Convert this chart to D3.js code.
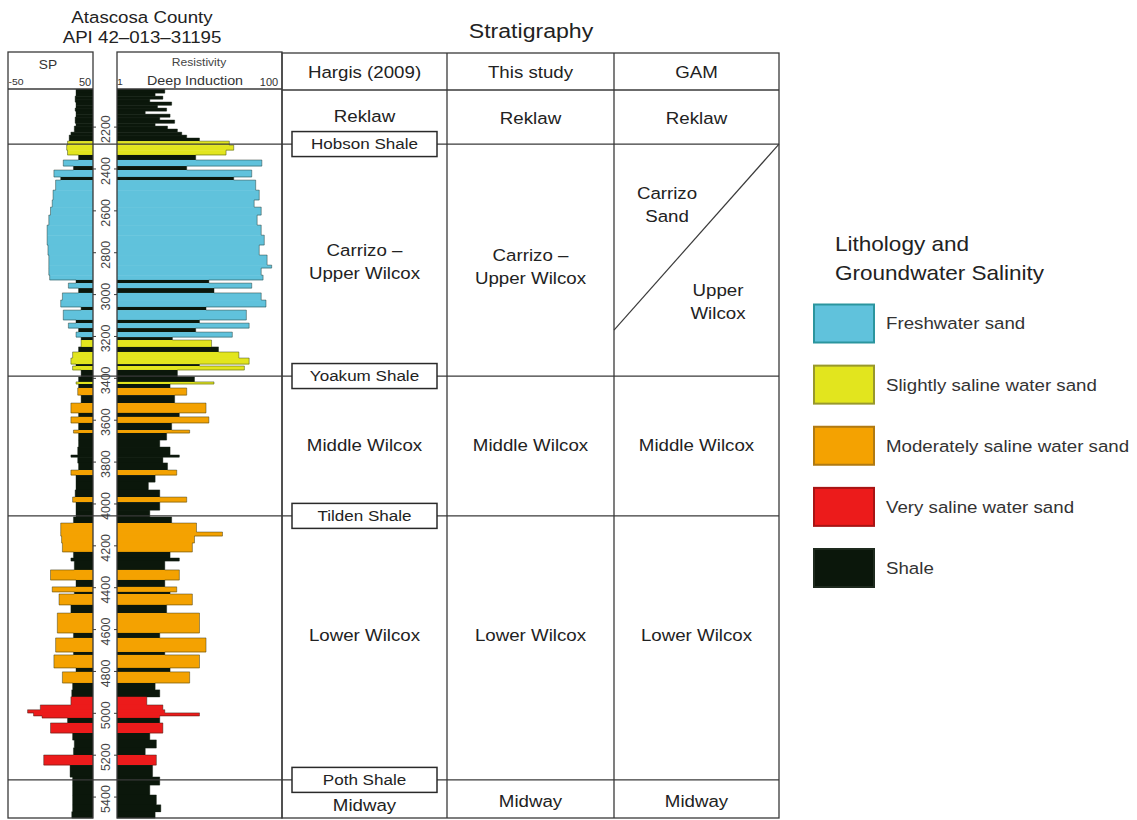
<!DOCTYPE html>
<html>
<head>
<meta charset="utf-8">
<script src="https://cdn.jsdelivr.net/npm/d3@7"></script>
<style>
  html, body { margin: 0; padding: 0; background: #fff; }
  svg { display: block; }
  text { font-family: "Liberation Sans", Arial, Helvetica, sans-serif; fill: #222; }
</style>
</head>
<body>
<svg id="chart" width="1137" height="820"></svg>
<script>
// ---------------- DATA ----------------
const titleLines = ["Atascosa County", "API 42\u2013013\u201331195"];
const depthTicks = [2200, 2400, 2600, 2800, 3000, 3200, 3400, 3600, 3800, 4000, 4200, 4400, 4600, 4800, 5000, 5200, 5400];
const logTop = 2018, logBottom = 5500;

// bed tops (ft), lithology code, SP (mV), deep induction resistivity (ohm-m)
const bedTop = [2018, 2037, 2052, 2066, 2080, 2095, 2109, 2123, 2138, 2152, 2166, 2181, 2195, 2209, 2224, 2238, 2252,
  2267, 2286, 2310, 2333, 2357, 2386, 2405, 2438, 2453, 2501, 2548, 2582, 2620, 2668, 2716, 2763, 2811, 2859, 2873, 2907,
  2930, 2945, 2969, 2992, 3026, 3059, 3074, 3121, 3136, 3160, 3179, 3203, 3217, 3250, 3274, 3303, 3332, 3341, 3360, 3393,
  3417, 3427, 3446, 3480, 3518, 3565, 3584, 3613, 3647, 3661, 3694, 3728, 3766, 3776, 3804, 3838, 3862, 3895, 3933, 3967,
  3991, 4029, 4062, 4091, 4134, 4153, 4186, 4229, 4258, 4272, 4315, 4363, 4396, 4420, 4430, 4482, 4521, 4616, 4640, 4707,
  4721, 4783, 4802, 4855, 4888, 4921, 4960, 4983, 4998, 5012, 5022, 5046, 5094, 5127, 5165, 5199, 5247, 5304, 5342, 5390,
  5437, 5470];
const bedLith = ["S","S","S","S","S","S","S","S","S","S","S","S","S","S","S","S","S",
  "Y","Y","Y","S","F","S","F","S","F","F","F","F","F","F","F","F","F","F","F","F",
  "S","F","S","F","F","S","F","S","F","S","F","S","Y","S","Y","Y","S","Y","S","S",
  "Y","S","M","S","M","S","M","S","M","S","S","S","S","S","S","M","S","S","S","M",
  "S","S","S","M","M","M","M","S","S","S","M","S","M","S","M","S","M","S","M","S",
  "M","S","M","S","S","V","V","V","V","V","S","V","S","S","S","V","S","S","S","S",
  "S","S"];
const bedSP = [30, 30, 29, 29, 30, 30, 29, 30, 30, 29, 29, 30, 28, 28, 24, 22, 22,
  20, 19, 20, 33, 15, 27, 4, 12, 6, 3, 2, 0, -2, -4, -4, -3, -2, -2, -2, -1,
  30, 21, 33, 14, 12, 36, 15, 30, 21, 33, 30, 36, 36, 33, 26, 24, 30, 26, 36, 33,
  30, 33, 32, 36, 24, 33, 24, 33, 27, 33, 33, 32, 24, 32, 33, 24, 30, 30, 29, 26,
  30, 30, 27, 12, 12, 13, 14, 27, 24, 28, 0, 30, 2, 28, 10, 24, 8, 27, 6, 27,
  4, 30, 14, 26, 25, 24, -12, -27, -20, -10, 20, 0, 26, 28, 27, -8, 23, 26, 26, 26,
  26, 25];
const bedRes = [3.8, 2.9, 3.6, 2.5, 4.6, 3.1, 4.0, 2.2, 4.4, 3.3, 5.0, 2.9, 4.1, 5.4, 6.1, 7.0, 10,
  23, 26, 21, 9, 57, 7, 43, 26, 48, 53, 46, 56, 50, 56, 61, 53, 66, 75, 56, 59,
  13, 43, 15, 56, 64, 12, 37, 10, 40, 9, 25, 4.7, 14, 17, 30, 40, 10, 35, 5.4, 8.7,
  15, 4.4, 7, 5, 12, 5.7, 13, 4.6, 7.6, 4, 3.3, 4.4, 5.7, 3.6, 4.1, 5.3, 2.9, 2.4, 3.3, 7,
  3.3, 2.5, 4.6, 9.2, 19, 8.7, 8.2, 4.4, 5.7, 3.8, 5.7, 3.8, 5.3, 4.4, 8.2, 4, 10, 3.3, 12, 3.8,
  10, 4.4, 7.6, 2.9, 3.3, 2.3, 3.6, 3.8, 10, 3.3, 3.3, 3.6, 2.5, 3.0, 2.2, 3.0, 2.7, 3.3, 2.5, 3.0,
  3.4, 2.9];

// lithology legend
const lithKeys = ["F", "Y", "M", "V", "S"];
const lithNames = ["Freshwater sand", "Slightly saline water sand", "Moderately saline water sand", "Very saline water sand", "Shale"];
const lithFill = ["#60c2dc", "#e2e51e", "#f4a201", "#ec1b1b", "#0b170b"];
const lithStroke = ["#2b959e", "#98982c", "#b07a12", "#a81414", "#1e2a1e"];
const legendTitle = ["Lithology and", "Groundwater Salinity"];

// stratigraphy
const stratTitle = "Stratigraphy";
const stratColumns = ["Hargis (2009)", "This study", "GAM"];
const boundaryDepths = [2281, 3389, 4057, 5318];
const hargisShales = ["Hobson Shale", "Yoakum Shale", "Tilden Shale", "Poth Shale"];
const gamDiagonalBottom = 3170;

// ---------------- LAYOUT ----------------
const svg = d3.select("#chart");
const FONT_SX = 1.1;
const lineColor = "#3a3a3a";

const top0 = 52, headBottom = 89, bottom0 = 818;
const spL = 8, spR = 93, resL = 117, resR = 282;
const tabL = 282, tabR = 779;
const colX = [282, 447, 614, 779];

const y = d3.scaleLinear().domain([logTop, logBottom]).range([headBottom, bottom0]);
const xSP = d3.scaleLinear().domain([-50, 50]).range([spL, spR]);
const xRes = d3.scaleLog().domain([1, 100]).range([resL, resR]);
const lithColor = d3.scaleOrdinal().domain(lithKeys).range(lithFill);

function txt(g, x, yy, s, size, opts = {}) {
  return g.append("text")
    .attr("transform", `translate(${x},${yy}) scale(${opts.sx || FONT_SX},1)`)
    .attr("text-anchor", opts.anchor || "middle")
    .attr("dy", "0.35em")
    .style("font-size", size + "px")
    .style("fill", opts.fill || "#222")
    .text(s);
}

// ---- Titles ----
txt(svg, 142, 17, titleLines[0], 17);
txt(svg, 142, 37, titleLines[1], 17);
txt(svg, 531, 31, stratTitle, 21);

// ---- Log fills ----
const beds = bedTop.map((t, i) => ({
  top: t,
  bot: i < bedTop.length - 1 ? bedTop[i + 1] : logBottom,
  lith: bedLith[i], sp: bedSP[i], res: bedRes[i]
}));

const gLog = svg.append("g");
gLog.selectAll("rect.sp").data(beds).join("rect")
  .attr("class", "sp")
  .attr("x", d => xSP(d.sp))
  .attr("width", d => spR - xSP(d.sp))
  .attr("y", d => y(d.top))
  .attr("height", d => y(d.bot) - y(d.top) + 0.3)
  .attr("fill", d => lithColor(d.lith));

gLog.selectAll("rect.res").data(beds).join("rect")
  .attr("class", "res")
  .attr("x", resL)
  .attr("width", d => xRes(d.res) - resL)
  .attr("y", d => y(d.top))
  .attr("height", d => y(d.bot) - y(d.top) + 0.3)
  .attr("fill", d => lithColor(d.lith));

// curve outlines: stepBefore keeps each bed's value from its top down to the next top
const bedsEnd = beds.concat([{ top: logBottom, sp: beds[beds.length - 1].sp, res: beds[beds.length - 1].res }]);
const spLine = d3.line().curve(d3.curveStepBefore).x(d => xSP(d.sp)).y(d => y(d.top));
const resLine = d3.line().curve(d3.curveStepBefore).x(d => xRes(d.res)).y(d => y(d.top));
gLog.append("path").attr("d", spLine(bedsEnd)).attr("fill", "none").attr("stroke", "#142014").attr("stroke-width", 0.8).attr("opacity", 0.5);
gLog.append("path").attr("d", resLine(bedsEnd)).attr("fill", "none").attr("stroke", "#142014").attr("stroke-width", 0.8).attr("opacity", 0.5);

// ---- Log frames ----
const gFrame = svg.append("g").attr("fill", "none").attr("stroke", lineColor).attr("stroke-width", 1.3);
gFrame.append("rect").attr("x", spL).attr("y", top0).attr("width", spR - spL).attr("height", bottom0 - top0);
gFrame.append("rect").attr("x", resL).attr("y", top0).attr("width", resR - resL).attr("height", bottom0 - top0);
gFrame.append("line").attr("x1", spL).attr("x2", spR).attr("y1", headBottom).attr("y2", headBottom);
gFrame.append("line").attr("x1", resL).attr("x2", resR).attr("y1", headBottom).attr("y2", headBottom);

// headers
txt(svg, 48, 65, "SP", 12.5, { fill: "#333" });
txt(svg, xSP(-50) + 8, 82, "-50", 9.5, { fill: "#333" });
txt(svg, xSP(50) - 8, 82, "50", 10, { fill: "#333" });
txt(svg, 199, 62, "Resistivity", 11, { fill: "#444" });
txt(svg, 195, 80, "Deep Induction", 13, { fill: "#333" });
txt(svg, xRes(1) + 3, 82, "1", 9.5, { fill: "#333" });
txt(svg, xRes(100) - 13, 82, "100", 10, { fill: "#333" });

// depth axis
const gDepth = svg.append("g");
gDepth.selectAll("line.tl").data(depthTicks).join("line")
  .attr("class", "tl")
  .attr("x1", spR).attr("x2", spR + 3).attr("y1", d => y(d)).attr("y2", d => y(d))
  .attr("stroke", lineColor).attr("stroke-width", 1);
gDepth.selectAll("line.tr").data(depthTicks).join("line")
  .attr("class", "tr")
  .attr("x1", resL - 3).attr("x2", resL).attr("y1", d => y(d)).attr("y2", d => y(d))
  .attr("stroke", lineColor).attr("stroke-width", 1);
gDepth.selectAll("text").data(depthTicks).join("text")
  .attr("transform", d => `translate(${(spR + resL) / 2 + 0.5},${y(d) + 2}) rotate(-90)`)
  .attr("text-anchor", "middle").attr("dy", "0.35em")
  .style("font-size", "12.5px").style("fill", "#444")
  .text(d => d);

// ---- Stratigraphy table ----
const gTab = svg.append("g").attr("stroke", lineColor).attr("stroke-width", 1.3).attr("fill", "none");
gTab.append("rect").attr("x", tabL).attr("y", 53).attr("width", tabR - tabL).attr("height", bottom0 - 53);
colX.slice(1, 3).forEach(cx => gTab.append("line").attr("x1", cx).attr("x2", cx).attr("y1", 53).attr("y2", bottom0));
gTab.append("line").attr("x1", tabL).attr("x2", tabR).attr("y1", 90).attr("y2", 90);

// formation boundary lines across log and table
svg.append("g").selectAll("line").data(boundaryDepths).join("line")
  .attr("x1", spL).attr("x2", tabR)
  .attr("y1", d => y(d)).attr("y2", d => y(d))
  .attr("stroke", lineColor).attr("stroke-width", 1.3);

// GAM diagonal
svg.append("line")
  .attr("x1", colX[3]).attr("y1", y(boundaryDepths[0]))
  .attr("x2", colX[2]).attr("y2", y(gamDiagonalBottom))
  .attr("stroke", lineColor).attr("stroke-width", 1.2);

const cc = [(colX[0] + colX[1]) / 2, (colX[1] + colX[2]) / 2, (colX[2] + colX[3]) / 2];
const tsz = 17;
stratColumns.forEach((s, i) => txt(svg, cc[i], 72, s, tsz));

// Reklaw
[0, 1, 2].forEach(i => txt(svg, cc[i], i === 0 ? 116 : 118, "Reklaw", tsz));
// Carrizo - Upper Wilcox
txt(svg, cc[0], 250, "Carrizo \u2013", tsz);
txt(svg, cc[0], 273, "Upper Wilcox", tsz);
txt(svg, cc[1], 255, "Carrizo \u2013", tsz);
txt(svg, cc[1], 278, "Upper Wilcox", tsz);
txt(svg, 667, 193, "Carrizo", tsz);
txt(svg, 667, 216, "Sand", tsz);
txt(svg, 718, 290, "Upper", tsz);
txt(svg, 718, 313, "Wilcox", tsz);
// Middle / Lower Wilcox
[0, 1, 2].forEach(i => txt(svg, cc[i], 445, "Middle Wilcox", tsz));
[0, 1, 2].forEach(i => txt(svg, cc[i], 635, "Lower Wilcox", tsz));
// Midway
txt(svg, cc[0], 805, "Midway", tsz);
txt(svg, cc[1], 801, "Midway", tsz);
txt(svg, cc[2], 801, "Midway", tsz);

// Hargis shale boxes
const gBox = svg.append("g");
hargisShales.forEach((s, i) => {
  const by = y(boundaryDepths[i]);
  gBox.append("rect").attr("x", 292).attr("y", by - 12.5).attr("width", 145).attr("height", 25)
    .attr("fill", "#fff").attr("stroke", "#2a2a2a").attr("stroke-width", 1.5);
  txt(gBox, 364.5, by, s, 15.5);
});

// ---- Legend ----
const gLeg = svg.append("g");
txt(gLeg, 835, 244, legendTitle[0], 20.5, { anchor: "start" });
txt(gLeg, 835, 273, legendTitle[1], 20.5, { anchor: "start" });
const legY = d3.scalePoint().domain(lithKeys).range([323.5, 568]);
lithKeys.forEach((k, i) => {
  const cy = legY(k);
  gLeg.append("rect").attr("x", 814).attr("y", cy - 19).attr("width", 60).attr("height", 38)
    .attr("fill", lithFill[i]).attr("stroke", lithStroke[i]).attr("stroke-width", 2);
  txt(gLeg, 886, cy, lithNames[i], 17, { anchor: "start", fill: "#333" });
});
</script>
</body>
</html>
